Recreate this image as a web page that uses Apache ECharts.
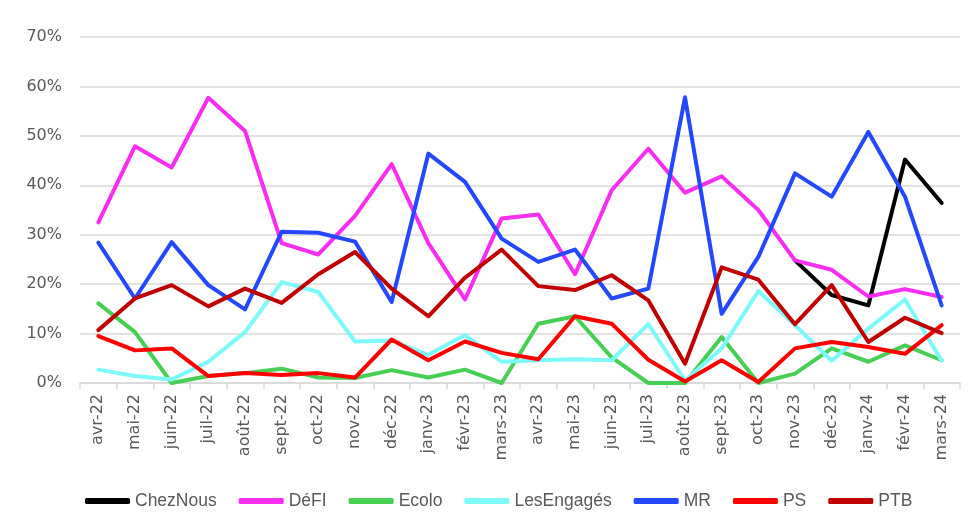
<!DOCTYPE html>
<html>
<head>
<meta charset="utf-8">
<script src="https://cdn.jsdelivr.net/npm/echarts@6/dist/echarts.min.js"></script>
<style>
  html, body { margin: 0; padding: 0; background: #fff; }
  #chart { width: 971px; height: 523px; }
</style>
</head>
<body>
<div id="chart"></div>
<script>
var months = ['avr-22', 'mai-22', 'juin-22', 'juil-22', 'août-22', 'sept-22', 'oct-22', 'nov-22',
    'déc-22', 'janv-23', 'févr-23', 'mars-23', 'avr-23', 'mai-23', 'juin-23', 'juil-23',
    'août-23', 'sept-23', 'oct-23', 'nov-23', 'déc-23', 'janv-24', 'févr-24', 'mars-24'];

var chezNous = [null, null, null, null, null, null, null, null, null, null, null, null,
    null, null, null, null, null, null, null, 24.8, 17.8, 15.7, 45.2, 36.4];
var defi = [32.5, 47.9, 43.6, 57.7, 51.0, 28.3, 26.0, 33.8, 44.3, 28.3, 16.9, 33.3,
    34.1, 22.0, 39.0, 47.4, 38.5, 41.8, 35.0, 24.8, 22.9, 17.5, 19.0, 17.4];
var ecolo = [16.1, 10.3, 0, 1.4, 2.0, 2.9, 1.1, 1.0, 2.6, 1.1, 2.7, 0,
    12.0, 13.5, 5.2, 0, 0, 9.3, 0, 1.9, 7.0, 4.3, 7.6, 4.6];
var lesEngages = [2.7, 1.4, 0.7, 4.3, 10.3, 20.4, 18.4, 8.4, 8.6, 5.7, 9.7, 4.3,
    4.6, 4.8, 4.6, 11.9, 0.5, 7.0, 18.6, 11.7, 4.5, 11.0, 16.9, 4.5];
var mr = [28.4, 17.1, 28.5, 19.8, 14.9, 30.6, 30.4, 28.6, 16.4, 46.4, 40.7, 29.2,
    24.5, 27.0, 17.1, 19.1, 57.8, 14.0, 25.5, 42.4, 37.7, 50.8, 37.7, 15.7];
var ps = [9.5, 6.6, 7.0, 1.4, 2.0, 1.6, 2.0, 1.1, 8.8, 4.6, 8.4, 6.1,
    4.8, 13.5, 12.0, 4.7, 0.3, 4.6, 0.2, 7.0, 8.3, 7.3, 5.9, 11.7];
var ptb = [10.7, 17.1, 19.8, 15.5, 19.1, 16.2, 22.0, 26.5, 19.1, 13.5, 21.3, 27.0,
    19.6, 18.8, 21.8, 16.7, 3.9, 23.4, 20.9, 11.9, 19.8, 8.3, 13.2, 10.1];

var parties = [
    { name: 'ChezNous', data: chezNous, color: '#000000' },
    { name: 'DéFI', data: defi, color: '#F72DF0' },
    { name: 'Ecolo', data: ecolo, color: '#47CF54' },
    { name: 'LesEngagés', data: lesEngages, color: '#7DF9FA' },
    { name: 'MR', data: mr, color: '#2448FF' },
    { name: 'PS', data: ps, color: '#FF0000' },
    { name: 'PTB', data: ptb, color: '#C00000' }
];

var labelColor = '#595959';
var gridColor = '#D9D9D9';

var series = parties.map(function(p) {
    return {
        name: p.name,
        type: 'line',
        data: p.data,
        symbol: 'none',
        color: p.color,
        lineStyle: { width: 4, color: p.color, cap: 'round', join: 'round' },
        connectNulls: false,
        animation: false
    };
});

var chart = echarts.init(document.getElementById('chart'));
chart.setOption({
    animation: false,
    grid: { left: 80, right: 11, top: 37, bottom: 140 },
    legend: {
        bottom: 8,
        left: 80,
        icon: 'roundRect',
        itemWidth: 45,
        itemHeight: 6,
        itemGap: 22,
        textStyle: { color: labelColor, fontSize: 17.5, fontFamily: 'Liberation Sans, sans-serif' },
        data: parties.map(function(p) { return p.name; })
    },
    xAxis: {
        type: 'category',
        data: months,
        boundaryGap: true,
        axisLine: { lineStyle: { color: gridColor, width: 1.5 } },
        axisTick: { show: true, alignWithLabel: false, length: 6, lineStyle: { color: gridColor, width: 1.5 } },
        axisLabel: {
            rotate: 90,
            interval: 0,
            color: labelColor,
            fontSize: 16,
            fontFamily: 'DejaVu Sans, sans-serif',
            margin: 11
        }
    },
    yAxis: {
        type: 'value',
        min: 0,
        max: 70,
        interval: 10,
        axisLine: { show: false },
        axisTick: { show: false },
        splitLine: { lineStyle: { color: gridColor, width: 1.5 } },
        axisLabel: {
            formatter: '{value}%',
            color: labelColor,
            fontSize: 16,
            fontFamily: 'DejaVu Sans, sans-serif',
            margin: 18
        }
    },
    series: series
});
</script>
</body>
</html>
